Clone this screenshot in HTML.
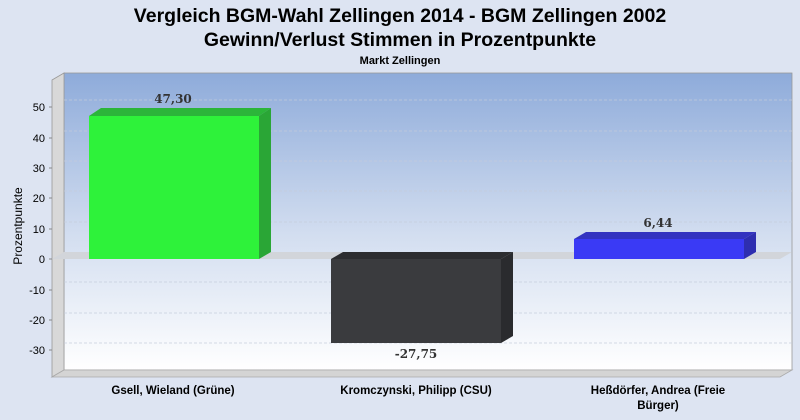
<!DOCTYPE html>
<html><head><meta charset="utf-8"><style>
body{margin:0;background:#dde4f2;}
svg{display:block}
text{font-family:"Liberation Sans",sans-serif}
</style></head><body>
<svg width="800" height="420" viewBox="0 0 800 420">
<defs>
<linearGradient id="bg" x1="0" y1="0" x2="0" y2="1">
<stop offset="0" stop-color="#8eabda"/><stop offset="0.55" stop-color="#d3def0"/><stop offset="1" stop-color="#ffffff"/>
</linearGradient>
</defs>
<rect width="800" height="420" fill="#dde4f2"/>
<text x="400" y="22" text-anchor="middle" font-size="19.5" font-weight="bold" fill="#000">Vergleich BGM-Wahl Zellingen 2014 - BGM Zellingen 2002</text>
<text x="400" y="46" text-anchor="middle" font-size="19.5" font-weight="bold" fill="#000">Gewinn/Verlust Stimmen in Prozentpunkte</text>
<text x="400" y="64" text-anchor="middle" font-size="11" font-weight="bold" fill="#000">Markt Zellingen</text>
<rect x="64" y="73" width="728" height="297" fill="url(#bg)" stroke="#999" stroke-width="0.8"/>
<polygon points="52,80 64,73 64,370 52,377" fill="#d8d8d8" stroke="#999" stroke-width="0.8"/>
<polygon points="52,377 64,370 792,370 780,377" fill="#d4d4d4" stroke="#aaa" stroke-width="0.8"/>
<g stroke="#c4ccda" stroke-opacity="0.7" stroke-dasharray="3,2" stroke-width="1">
<line x1="64" y1="100" x2="792" y2="100"/><line x1="64" y1="131" x2="792" y2="131"/>
<line x1="64" y1="161" x2="792" y2="161"/><line x1="64" y1="191" x2="792" y2="191"/>
<line x1="64" y1="222" x2="792" y2="222"/><line x1="64" y1="282" x2="792" y2="282"/>
<line x1="64" y1="313" x2="792" y2="313"/><line x1="64" y1="343" x2="792" y2="343"/>
</g>
<polygon points="52,259 64,252 792,252 780,259" fill="#d2d5da"/>
<g font-size="11" fill="#000" text-anchor="end">
<text x="45" y="111">50</text><text x="45" y="142">40</text><text x="45" y="172">30</text>
<text x="45" y="202">20</text><text x="45" y="233">10</text><text x="45" y="263">0</text>
<text x="45" y="294">-10</text><text x="45" y="324">-20</text><text x="45" y="354">-30</text>
</g>
<g stroke="#888"><line x1="49" y1="107" x2="52" y2="107"/><line x1="49" y1="138" x2="52" y2="138"/><line x1="49" y1="168" x2="52" y2="168"/><line x1="49" y1="198" x2="52" y2="198"/><line x1="49" y1="229" x2="52" y2="229"/><line x1="49" y1="259" x2="52" y2="259"/><line x1="49" y1="290" x2="52" y2="290"/><line x1="49" y1="320" x2="52" y2="320"/><line x1="49" y1="350" x2="52" y2="350"/></g>
<text transform="translate(22,226) rotate(-90)" text-anchor="middle" font-size="12" fill="#000">Prozentpunkte</text>
<polygon points="89,116 101,108 271,108 259,116" fill="#2cb53a"/>
<polygon points="259,116 271,108 271,252 259,259" fill="#2aa636"/>
<rect x="89" y="116" width="170" height="143" fill="#2ef23a"/>
<polygon points="331,259 343,252 513,252 501,259" fill="#2c2d30"/>
<polygon points="501,259 513,252 513,336 501,343" fill="#2a2b2e"/>
<rect x="331" y="259" width="170" height="84" fill="#3a3b3e"/>
<polygon points="574,239 586,232 756,232 744,239" fill="#3333c0"/>
<polygon points="744,239 756,232 756,252 744,259" fill="#2e2eb0"/>
<rect x="574" y="239" width="170" height="20" fill="#3a3af5"/>
<g font-weight="bold" font-size="13" fill="#333" text-anchor="middle">
<text x="173" y="103" style="font-family:'DejaVu Serif','Liberation Serif',serif;font-size:12px">47,30</text>
<text x="416" y="358" style="font-family:'DejaVu Serif','Liberation Serif',serif;font-size:12px">-27,75</text>
<text x="658" y="227" style="font-family:'DejaVu Serif','Liberation Serif',serif;font-size:12px">6,44</text>
</g>
<g font-size="11.5" font-weight="bold" fill="#000" text-anchor="middle">
<text x="173" y="394">Gsell, Wieland (Grüne)</text>
<text x="416" y="394">Kromczynski, Philipp (CSU)</text>
<text x="658" y="394">Heßdörfer, Andrea (Freie</text>
<text x="658" y="409">Bürger)</text>
</g>
</svg>
</body></html>
